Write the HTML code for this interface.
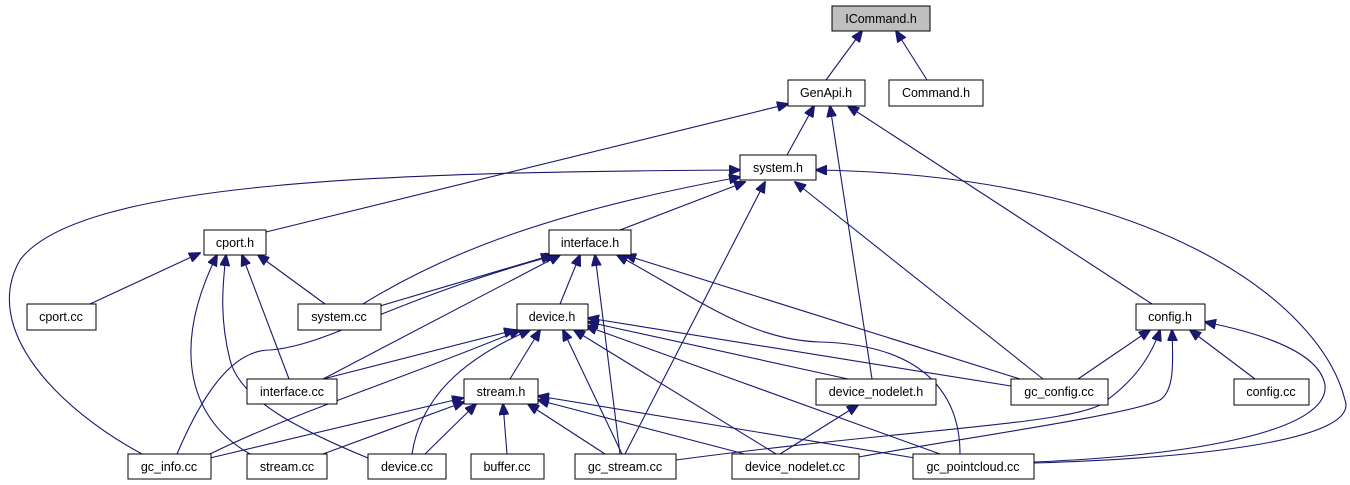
<!DOCTYPE html>
<html><head><meta charset="utf-8">
<style>
html,body{margin:0;padding:0;background:#fff;}
svg{display:block;}
text{font-family:"Liberation Sans",sans-serif;font-size:12.5px;fill:#000;text-anchor:middle;}
.n{fill:#fff;stroke:#000;stroke-width:1;}
.e{fill:none;stroke:#191970;stroke-width:1.1;}
</style></head><body>
<svg width="1350" height="485" viewBox="0 0 1350 485" xmlns="http://www.w3.org/2000/svg">
<defs>
<marker id="a" markerWidth="12" markerHeight="10" refX="11" refY="5" orient="auto" markerUnits="userSpaceOnUse">
<path d="M0,0 L12,5 L0,10 z" fill="#191970" stroke="#191970"/>
</marker>
</defs>
<g class="e" marker-end="url(#a)">
<path d="M826,80 L862,31"/>
<path d="M927,80 L896,31"/>
<path d="M787,155 L814,106"/>
<path d="M266,232 L788,104"/>
<path d="M872,379 L830,106"/>
<path d="M1152,304 L848,106"/>
<path d="M142,454 C60,410 -20,330 20,260 C80,180 400,172 740,170"/>
<path d="M363,304 C450,250 560,210 740,177"/>
<path d="M620,230 L745,182"/>
<path d="M625,454 L765,182"/>
<path d="M1043,379 L795,182"/>
<path d="M1034,463 C1200,458 1360,440 1345,400 C1320,300 1150,175 816,170"/>
<path d="M1078,379 L1150,330"/>
<path d="M1255,379 L1190,330"/>
<path d="M676,460 C900,430 1060,425 1100,405 C1130,385 1150,360 1160,330"/>
<path d="M859,457 C950,440 1130,415 1160,400 C1175,390 1173,360 1172,330"/>
<path d="M1034,462 C1200,455 1330,430 1325,385 C1320,355 1270,335 1205,322"/>
<path d="M90,304 L200,253"/>
<path d="M325,304 L258,255"/>
<path d="M289,379 L242,255"/>
<path d="M250,454 C190,420 170,350 217,255"/>
<path d="M368,458 C300,430 240,400 230,360 C220,320 222,290 226,255"/>
<path d="M380,306 L552,255"/>
<path d="M323,379 L560,255"/>
<path d="M177,454 C200,400 230,350 270,350 C330,345 390,300 556,255"/>
<path d="M560,304 L580,255"/>
<path d="M620,454 L595,255"/>
<path d="M1020,379 L625,255"/>
<path d="M960,454 C960,400 930,345 820,342 C750,340 700,300 617,255"/>
<path d="M323,379 L515,330"/>
<path d="M210,454 C300,410 400,380 520,330"/>
<path d="M412,454 C420,400 460,360 530,330"/>
<path d="M510,379 L540,330"/>
<path d="M622,454 L563,330"/>
<path d="M776,454 L574,330"/>
<path d="M940,454 L586,326"/>
<path d="M848,379 L588,322"/>
<path d="M1011,386 L588,318"/>
<path d="M210,458 L463,398"/>
<path d="M323,454 L464,402"/>
<path d="M425,454 L476,404"/>
<path d="M507,454 L503,404"/>
<path d="M605,454 L528,404"/>
<path d="M760,458 L538,400"/>
<path d="M915,458 L538,396"/>
<path d="M780,454 L858,405"/>
</g>
<g>
<rect x="832" y="6" width="98" height="25" style="fill:#bfbfbf;stroke:#000"/><text x="881" y="23">ICommand.h</text>
<rect class="n" x="788" y="80" width="77" height="26"/><text x="826" y="97">GenApi.h</text>
<rect class="n" x="889" y="80" width="94" height="26"/><text x="936" y="97">Command.h</text>
<rect class="n" x="740" y="155" width="76" height="25"/><text x="778" y="172">system.h</text>
<rect class="n" x="204" y="230" width="62" height="25"/><text x="235" y="247">cport.h</text>
<rect class="n" x="549" y="230" width="82" height="25"/><text x="590" y="247">interface.h</text>
<rect class="n" x="27" y="304" width="69" height="26"/><text x="61" y="321">cport.cc</text>
<rect class="n" x="298" y="304" width="83" height="26"/><text x="339" y="321">system.cc</text>
<rect class="n" x="517" y="304" width="71" height="26"/><text x="552" y="321">device.h</text>
<rect class="n" x="1136" y="304" width="69" height="26"/><text x="1170" y="321">config.h</text>
<rect class="n" x="247" y="379" width="90" height="25"/><text x="292" y="396">interface.cc</text>
<rect class="n" x="464" y="379" width="74" height="25"/><text x="501" y="396">stream.h</text>
<rect class="n" x="816" y="379" width="120" height="26"/><text x="876" y="396">device_nodelet.h</text>
<rect class="n" x="1011" y="379" width="97" height="26"/><text x="1059" y="396">gc_config.cc</text>
<rect class="n" x="1234" y="379" width="75" height="26"/><text x="1271" y="396">config.cc</text>
<rect class="n" x="128" y="454" width="83" height="25"/><text x="169" y="471">gc_info.cc</text>
<rect class="n" x="247" y="454" width="80" height="25"/><text x="287" y="471">stream.cc</text>
<rect class="n" x="368" y="454" width="78" height="25"/><text x="407" y="471">device.cc</text>
<rect class="n" x="471" y="454" width="73" height="25"/><text x="507" y="471">buffer.cc</text>
<rect class="n" x="575" y="454" width="101" height="25"/><text x="625" y="471">gc_stream.cc</text>
<rect class="n" x="732" y="454" width="127" height="25"/><text x="795" y="471">device_nodelet.cc</text>
<rect class="n" x="913" y="454" width="121" height="25"/><text x="973" y="471">gc_pointcloud.cc</text>
</g>
</svg>
</body></html>
